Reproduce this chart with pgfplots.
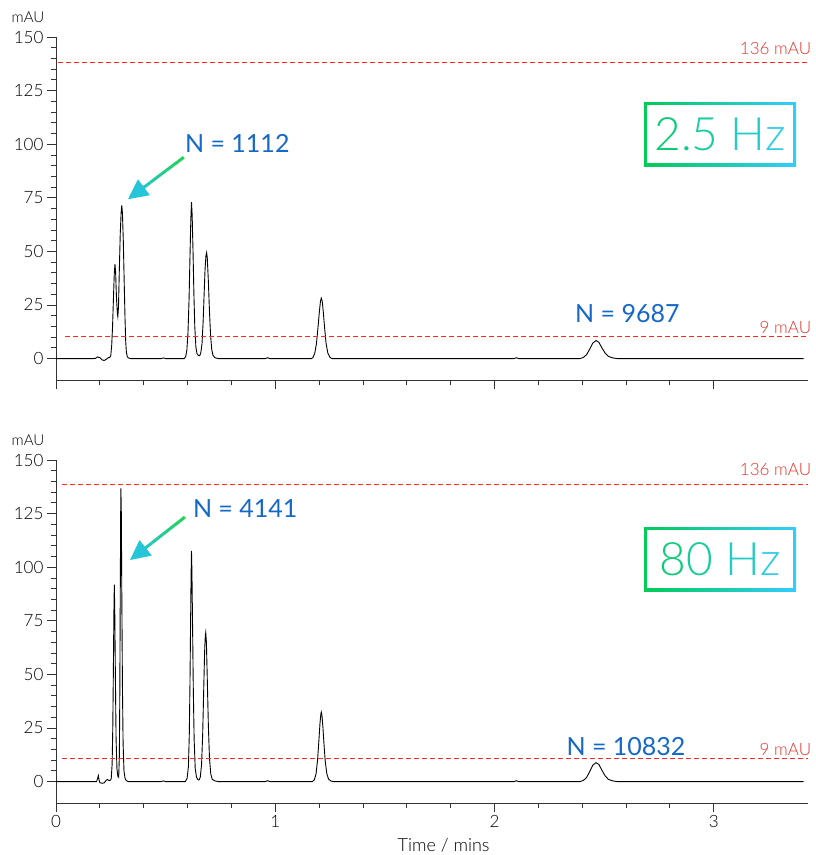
\documentclass[border=0pt]{standalone}
\usepackage{pgfplots}
\pgfplotsset{compat=1.18}
\usepackage{fontspec}
\setmainfont{Lato}[UprightFont={* Light}, BoldFont={*}]
\usetikzlibrary{arrows.meta,calc}

\definecolor{redline}{RGB}{255,40,40}
\definecolor{redtxt}{RGB}{228,50,40}
\definecolor{nblue}{RGB}{20,104,200}
\definecolor{hzG}{RGB}{0,204,85}
\definecolor{hzC}{RGB}{51,204,255}
\definecolor{arG}{RGB}{30,210,90}
\definecolor{arC}{RGB}{38,198,218}

\pgfplotsset{chrom/.style={
  scale only axis, width=752pt, height=343pt,
  xmin=0, xmax=3.43, ymin=-10, ymax=150,
  axis lines=left, axis line style={-, draw=black!80, line width=0.8pt},
  xtick={0,1,2,3}, minor x tick num=4,
  ytick={0,25,...,150}, minor y tick num=4,
  tick align=outside, major tick length=9pt, minor tick length=5pt,
  tick style={draw=black!80, line width=0.8pt},
  every tick label/.append style={font=\fontsize{17}{20}\selectfont, text=black},
  /pgf/number format/assume math mode=true,
  clip=false,
}}

\begin{document}
\begin{tikzpicture}
\path[use as bounding box] (0,0) rectangle (815pt,-855pt);

% ---- 2.5 Hz ----
\begin{axis}[chrom, at={(56pt,-380pt)}, anchor=south west, xticklabels={}]
\addplot[black, line width=0.9pt] coordinates {
(0,0) (0.17,0) (0.18,0.1) (0.19,0.8) (0.20,0.4) (0.21,-0.6) (0.22,-0.9) (0.23,-0.3)
(0.24,0.5) (0.246,0.6) (0.250,1.5) (0.254,6) (0.258,15) (0.262,28) (0.266,40) (0.269,44)
(0.272,40) (0.276,28) (0.280,21) (0.282,19.6) (0.285,24) (0.289,42) (0.293,58) (0.297,68)
(0.300,71.5) (0.303,68) (0.307,55) (0.311,36) (0.315,18) (0.318,8) (0.321,3) (0.325,1)
(0.33,0.3) (0.34,0) (0.48,0) (0.49,0.3) (0.50,0) (0.585,0) (0.592,1) (0.597,4) (0.602,12)
(0.607,28) (0.611,47) (0.615,65) (0.618,73) (0.621,67) (0.625,50) (0.629,30) (0.633,15)
(0.638,5.5) (0.643,2.3) (0.650,1.4) (0.656,1.4) (0.661,3) (0.666,7) (0.671,17) (0.676,31)
(0.680,42) (0.684,48) (0.687,49.4) (0.690,47) (0.695,36) (0.700,22) (0.705,11) (0.710,4.5)
(0.716,1.5) (0.725,0.4) (0.74,0) (0.955,0) (0.965,0.4) (0.975,0) (1.165,0) (1.172,0.5)
(1.180,2.3) (1.188,7) (1.195,14.5) (1.201,21.5) (1.206,26.5) (1.210,28.2) (1.214,27)
(1.219,22) (1.225,14.5) (1.232,7) (1.240,2.5) (1.250,0.5) (1.26,0) (2.09,0) (2.10,0.4)
(2.11,0) (2.39,0) (2.405,0.5) (2.42,1.8) (2.435,4.5) (2.448,7.2) (2.463,8.4) (2.476,7.6)
(2.49,5) (2.505,2.5) (2.52,1) (2.54,0.3) (2.56,0) (3.41,0)
};
\draw[redline, line width=1pt, dash pattern=on 5pt off 3pt] (axis cs:0.01,138) -- (axis cs:3.43,138);
\draw[redline, line width=1pt, dash pattern=on 5pt off 3pt] (axis cs:0.04,10.3) -- (axis cs:3.43,10.3);
\node[anchor=base east, inner sep=0pt, text=redtxt, font=\fontsize{17}{20}\selectfont] at (axis cs:3.445,142) {136 mAU};
\node[anchor=base east, inner sep=0pt, text=redtxt, font=\fontsize{17}{20}\selectfont] at (axis cs:3.445,11.7) {9 mAU};
\node[anchor=west, inner sep=0pt, text=nblue, font=\fontsize{25}{28}\selectfont\bfseries] at (axis cs:0.588,100.5) {N = 1112};
\node[inner sep=0pt, text=nblue, font=\fontsize{25}{28}\selectfont\bfseries] at (axis cs:2.606,21) {N = 9687};
\node[inner sep=0pt, font=\fontsize{15}{18}\selectfont, text=black] at ([shift={(-28pt,20pt)}]rel axis cs:0,1) {mAU};
\coordinate (a1) at (axis cs:0.583,93.9);
\coordinate (a2) at (axis cs:0.328,74.3);
\coordinate (b1) at (axis cs:2.683,119.6);
\coordinate (b2) at (axis cs:3.376,89.7);
\end{axis}

% ---- 80 Hz ----
\begin{axis}[chrom, at={(56pt,-803pt)}, anchor=south west]
\addplot[black, line width=0.9pt] coordinates {
(0,0) (0.185,0) (0.19,1.5) (0.193,2.8) (0.197,0.5) (0.20,-0.5) (0.21,-0.8) (0.22,-0.6)
(0.228,0.5) (0.234,1.0) (0.24,0.6) (0.245,0.5) (0.25,0.8) (0.252,1.5) (0.256,8) (0.259,25)
(0.262,55) (0.264,78) (0.266,91.9) (0.268,80) (0.271,48) (0.274,20) (0.278,6) (0.282,2.5)
(0.286,2) (0.289,12) (0.291,40) (0.293,85) (0.295,125) (0.296,136.8) (0.298,125) (0.300,90)
(0.303,45) (0.306,18) (0.310,5) (0.315,1.5) (0.32,0.5) (0.33,0) (0.48,0) (0.49,0.3) (0.50,0)
(0.59,0) (0.598,1.5) (0.604,7) (0.608,22) (0.611,45) (0.614,75) (0.616,95) (0.618,107.6)
(0.620,98) (0.623,72) (0.626,45) (0.630,20) (0.635,6) (0.641,2) (0.648,0.8) (0.653,0.8)
(0.658,2) (0.664,8) (0.669,22) (0.674,44) (0.678,61) (0.681,68) (0.683,69.5) (0.686,65)
(0.690,48) (0.695,26) (0.700,11) (0.706,3.5) (0.713,1) (0.725,0.3) (0.74,0) (0.955,0)
(0.965,0.4) (0.975,0) (1.17,0) (1.178,0.8) (1.186,3.5) (1.193,10) (1.199,19) (1.204,27)
(1.208,31.5) (1.210,32.4) (1.213,31) (1.217,26) (1.222,18) (1.228,9.5) (1.235,3.8)
(1.243,1.2) (1.253,0.3) (1.265,0) (2.09,0) (2.10,0.4) (2.11,0) (2.39,0) (2.405,0.5)
(2.42,1.9) (2.435,4.8) (2.448,7.6) (2.463,8.8) (2.476,8) (2.49,5.3) (2.505,2.6) (2.52,1)
(2.54,0.3) (2.56,0) (3.41,0)
};
\draw[redline, line width=1pt, dash pattern=on 5pt off 3pt] (axis cs:0.027,138.8) -- (axis cs:3.43,138.8);
\draw[redline, line width=1pt, dash pattern=on 5pt off 3pt] (axis cs:0.027,10.7) -- (axis cs:3.43,10.7);
\node[anchor=base east, inner sep=0pt, text=redtxt, font=\fontsize{17}{20}\selectfont] at (axis cs:3.445,143) {136 mAU};
\node[anchor=base east, inner sep=0pt, text=redtxt, font=\fontsize{17}{20}\selectfont] at (axis cs:3.445,12.1) {9 mAU};
\node[anchor=west, inner sep=0pt, text=nblue, font=\fontsize{25}{28}\selectfont\bfseries] at (axis cs:0.624,127.6) {N = 4141};
\node[inner sep=0pt, text=nblue, font=\fontsize{25}{28}\selectfont\bfseries] at (axis cs:2.60,16.4) {N = 10832};
\node[inner sep=0pt, font=\fontsize{15}{18}\selectfont, text=black] at ([shift={(-28pt,20pt)}]rel axis cs:0,1) {mAU};
\node[anchor=base, inner sep=0pt, font=\fontsize{18}{21}\selectfont, text=black] at ([shift={(0pt,-48pt)}]axis cs:1.768,-10) {Time / mins};
\coordinate (c1) at (axis cs:0.588,123.4);
\coordinate (c2) at (axis cs:0.337,103.3);
\coordinate (d1) at (axis cs:2.683,118.7);
\coordinate (d2) at (axis cs:3.376,88.8);
\end{axis}

% arrows with green-to-cyan colour
\foreach \p/\q in {a1/a2, c1/c2}{
  \foreach \s/\e/\c in {0/0.1/0, 0.1/0.2/12, 0.2/0.3/25, 0.3/0.4/37, 0.4/0.5/50, 0.5/0.6/62, 0.6/0.72/75}{
    \draw[line width=3pt, arC!\c!arG] ($(\p)!\s!(\q)$) -- ($(\p)!\e!(\q)$);
  }
  \draw[line width=3pt, arC, -{Triangle[length=20pt,width=19pt]}] ($(\p)!0.7!(\q)$) -- (\q);
}

% frequency boxes
\foreach \p/\q in {b1/b2, d1/d2}{
  \shade[left color=hzG, right color=hzC] (\p) rectangle (\q);
  \fill[white] ($(\p)+(3pt,-3pt)$) rectangle ($(\q)+(-3pt,3pt)$);
}
\node[inner sep=0pt, font=\fontsize{46}{50}\selectfont] at ($(b1)!0.5!(b2)$)
  {\textcolor{hzC!18!hzG}{2}\textcolor{hzC!32!hzG}{.}\textcolor{hzC!44!hzG}{5} \textcolor{hzC!68!hzG}{H}\textcolor{hzC!86!hzG}{z}};
\node[inner sep=0pt, font=\fontsize{46}{50}\selectfont] at ($(d1)!0.5!(d2)$)
  {\textcolor{hzC!21!hzG}{8}\textcolor{hzC!41!hzG}{0} \textcolor{hzC!66!hzG}{H}\textcolor{hzC!85!hzG}{z}};
\end{tikzpicture}
\end{document}
